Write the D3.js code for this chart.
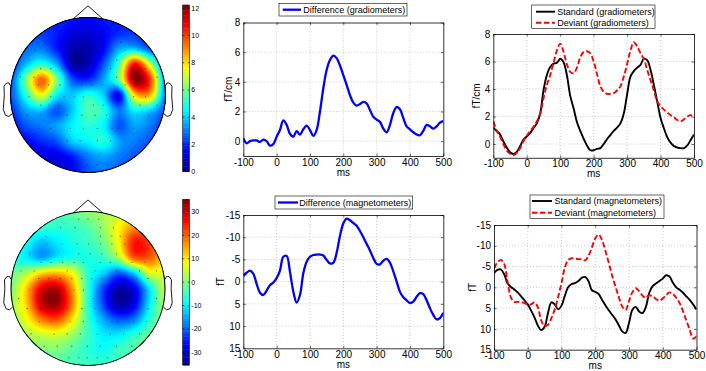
<!DOCTYPE html>
<html><head><meta charset="utf-8">
<script src="https://cdn.jsdelivr.net/npm/d3@7"></script>
<style>
body{margin:0;background:#fff;}
svg{display:block;font-family:"Liberation Sans",Arial,Helvetica,sans-serif;}
</style></head><body>
<svg id="chart" width="706" height="371"></svg>
<script>
// ---------------- DATA ----------------
const timesMs = [-100,-90,-80,-70,-60,-50,-40,-30,-20,-10,0,10,20,30,40,50,60,70,80,90,100,110,120,130,140,150,160,170,180,190,200,210,220,230,240,250,260,270,280,290,300,310,320,330,340,350,360,370,380,390,400,410,420,430,440,450,460,470,480,490,500];

const gradDifference = [0.2,-0.15,0.0,0.05,0.05,-0.05,0.1,0.0,-0.3,-0.2,
 0.3,0.75,1.4,1.1,0.5,0.3,0.68,0.45,0.8,1.05,
 0.75,0.36,0.75,2.0,3.55,4.8,5.47,5.77,5.6,5.1,
 4.45,3.8,3.1,2.6,2.4,2.5,2.65,2.55,2.1,1.65,
 1.45,1.3,0.85,0.6,1.1,1.9,2.3,2.15,1.55,1.0,
 0.8,0.6,0.45,0.4,0.7,1.1,1.0,0.85,1.0,1.25,
 1.35];

const magDifference = [-1.3,-2.0,-2.5,-1.8,0.5,2.5,3.0,2.0,0.8,0.2,
 -0.8,-2.5,-5.6,-5.8,-2.2,2.2,4.7,3.0,-1.9,-4.5,
 -5.6,-6.0,-6.1,-6.1,-5.9,-4.9,-4.1,-4.2,-6.5,-10.3,
 -13.1,-14.2,-13.8,-13.2,-12.6,-11.4,-10.0,-8.5,-7.0,-5.3,
 -4.0,-3.9,-4.7,-5.1,-4.3,-2.3,0.0,2.3,3.5,4.2,
 4.8,4.5,3.4,2.6,2.8,4.2,6.0,7.5,8.5,8.2,
 7.0];

const gradStandard = [1.2,0.95,0.7,0.2,-0.25,-0.6,-0.72,-0.58,-0.15,0.3,
 0.55,0.8,1.15,1.5,2.2,3.9,5.0,5.6,5.85,5.9,
 6.2,5.95,5.0,3.5,2.6,1.6,0.95,0.4,-0.1,-0.45,
 -0.45,-0.35,-0.3,0.0,0.35,0.65,0.95,1.2,1.5,2.2,
 3.6,4.9,5.3,5.55,5.75,6.2,6.1,5.4,4.3,3.1,
 1.9,1.15,0.5,0.1,-0.15,-0.25,-0.3,-0.3,-0.1,0.3,
 0.7];

const gradDeviant = [1.65,1.0,0.55,0.0,-0.45,-0.7,-0.82,-0.65,-0.3,0.2,
 0.6,0.95,1.25,1.65,2.2,3.3,4.3,5.0,5.9,6.8,
 7.3,6.7,5.8,5.25,5.15,5.55,6.3,6.7,6.75,6.6,
 6.0,5.1,4.2,3.8,3.65,3.65,3.7,3.9,4.2,4.9,
 5.8,6.8,7.4,7.1,6.6,6.2,5.4,4.65,3.9,3.1,
 2.75,2.5,2.3,2.1,1.95,1.75,1.65,1.8,2.0,2.1,
 1.9];

const magStandard = [-3.4,-4.2,-4.3,-3.2,-1.0,-0.1,0.5,1.2,2.1,3.1,
 4.1,5.6,7.2,9.2,10.3,9.5,6.2,3.6,4.1,5.3,
 4.4,2.0,-0.1,-0.8,-1.0,-1.5,-2.3,-2.5,-1.5,0.7,
 1.1,1.6,3.0,4.3,5.5,6.6,7.7,9.1,10.6,11.0,
 8.6,5.4,4.7,5.8,6.2,4.7,1.3,-0.3,-0.9,-1.5,
 -2.1,-2.9,-2.6,-1.1,0.0,0.6,1.3,2.2,3.0,4.1,
 5.3];

const magDeviant = [-4.6,-6.0,-6.6,-5.7,-1.5,2.4,3.5,3.5,3.5,3.8,
 4.1,4.1,3.6,4.8,8.0,9.3,9.0,7.4,5.3,2.3,
 -1.0,-4.8,-6.6,-7.0,-6.9,-6.8,-6.75,-6.5,-7.6,-9.6,
 -11.8,-12.7,-11.4,-8.8,-5.9,-2.8,-0.2,2.4,4.6,5.45,
 3.3,1.2,0.2,0.9,2.0,2.5,1.9,2.2,2.8,3.2,
 2.7,1.9,1.2,1.6,2.5,3.8,5.7,8.0,10.2,12.3,
 11.8];

const xTicks = [-100,0,100,200,300,400,500];
const gradYTicks = [0,2,4,6,8];
const magYTicks = [-15,-10,-5,0,5,10,15];
const gradColorTicks = [0,2,4,6,8,10,12];
const magColorTicks = [-30,-20,-10,0,10,20,30];
const gradColorRange = [0,12.25];
const magColorRange = [-35.4,35.4];

// topographic field values on an 11x11 grid over the head (rows top->bottom, cols left->right)
const gradMapGrid = [
 [2,2,2,2,1.8,1.5,1.8,2,2,2,2],
 [2.5,2.5,2.2,1.8,1.2,1.0,1.5,2,2.2,2,2],
 [2.5,2.8,3,1.8,0.6,0.6,1.5,3.5,3.8,2.5,2],
 [2,3.8,5,3.5,0.5,0.7,2.5,5.5,10.5,7,2.5],
 [2.5,6,9.5,6,2.5,2,3.5,6,12,10,3],
 [2.5,5,7.5,4.5,4,5,4,1.5,8,8.5,3],
 [2,3.5,3.8,2.5,4,5.5,5,3,4.5,4,2.5],
 [1.5,2.5,3,3.5,4.5,5,4.5,2.5,3.5,3,2],
 [1.5,1.5,2,2.5,4,4.5,5,3.5,3,2.5,1.5],
 [1.2,1.2,1.2,1.2,1.8,3,3.5,3,2.5,2,1.5],
 [1.2,1.2,1.2,1.2,1.5,2.5,3,2.5,2,1.5,1.5]
];
const magMapGrid = [
 [-3,-3,-3,-3,-2,1,3,5,8,8,8],
 [-5,-5,-5,-6,-5,-3,2,9,16,15,10],
 [-5,-8,-13,-10,-7,-5,-1,9,25,22,10],
 [-6,-10,-15,-10,-7,-7,-5,3,20,20,12],
 [-2,3,11,13,8,-6,-12,-20,-12,6,6],
 [0,12,28,31,15,-6,-22,-32,-28,-10,5],
 [2,12,30,33,17,-6,-22,-33,-28,-10,3],
 [2,8,18,21,10,-5,-15,-21,-18,-6,0],
 [2,3,5,6,2,-5,-10,-10,-6,-2,0],
 [2,2,0,0,-3,-6,-8,-5,-3,-2,-2],
 [-2,-2,-3,-4,-4,-5,-5,-4,-3,-2,-2]
];

// sensor positions: [normalised y, [normalised x ...]]
const sensorRows = [
 [-0.90,[-0.12,0,0.14]],
 [-0.79,[-0.36,-0.17,0.16,0.33]],
 [-0.68,[-0.55,0.16,0.31,0.42]],
 [-0.58,[-0.68,-0.53,-0.34,-0.14,0.01,0.16,0.31,0.48,0.65]],
 [-0.45,[-0.76,-0.12,0.03,0.18,0.37]],
 [-0.34,[-0.61,-0.48,-0.33,-0.18,-0.06,0.16,0.29,0.57,0.74]],
 [-0.23,[-0.87,-0.7,-0.27,0.09,0.37,0.67,0.89]],
 [-0.13,[-0.64,-0.51,-0.36,-0.21,-0.08,0.05,0.18,0.33,0.48,0.63,0.78]],
 [0.02,[-0.76,-0.48,-0.31,-0.18,-0.06,0.29,0.44,0.59,0.74]],
 [0.13,[-0.9,-0.61,-0.51,-0.38,0.07,0.2,0.37,0.67,0.89]],
 [0.26,[-0.79,-0.61,-0.27,-0.08,0.09,0.24,0.41,0.63,0.78]],
 [0.43,[-0.63,-0.48,-0.23,-0.06,0.12,0.31,0.39,0.59,0.76]],
 [0.59,[-0.74,-0.44,-0.27,-0.1,0.12,0.29,0.46,0.67]],
 [0.75,[-0.57,-0.4,-0.21,-0.01,0.16,0.37,0.57]],
 [0.90,[-0.25,-0.12,-0.01,0.12,0.25]]
];

// head outline shape (topoplot ear / nose geometry, fraction of head radius)
const earX = [0.994,1.02,1.036,1.0598,1.0838,1.08,1.094,1.064,1.02,0.978];
const earY = [0.111,0.155,0.1566,0.1492,0.111,-0.011,-0.1864,-0.2626,-0.2768,-0.2398];
const noseX = [-0.18,0,0.18];
const noseY = [0.992,1.15,0.992];

// ---------------- DRAWING ----------------
const FONT = "'Liberation Sans', Arial, Helvetica, sans-serif";
const svg = d3.select("#chart");
svg.append("rect").attr("width",706).attr("height",371).attr("fill","#fff");

function jet(t){
  t = Math.max(0, Math.min(1, t));
  const c = v => Math.round(255*Math.max(0, Math.min(1, v)));
  return `rgb(${c(Math.min(4*t-1.5,-4*t+4.5))},${c(Math.min(4*t-0.5,-4*t+3.5))},${c(Math.min(4*t+0.5,-4*t+2.5))})`;
}

function upsample(grid, N){
  const G = grid.length;
  const get = (r,c) => grid[Math.max(0,Math.min(G-1,r))][Math.max(0,Math.min(G-1,c))];
  const cr = (p0,p1,p2,p3,t) => p1 + 0.5*t*(p2-p0 + t*(2*p0-5*p1+4*p2-p3 + t*(3*(p1-p2)+p3-p0)));
  const out = new Float64Array(N*N);
  for (let j=0;j<N;j++){
    const v=j/(N-1)*(G-1); const r=Math.min(G-2,Math.floor(v)); const ty=v-r;
    for (let i=0;i<N;i++){
      const u=i/(N-1)*(G-1); const c=Math.min(G-2,Math.floor(u)); const tx=u-c;
      const rows=[-1,0,1,2].map(k=>cr(get(r+k,c-1),get(r+k,c),get(r+k,c+1),get(r+k,c+2),tx));
      out[j*N+i]=cr(rows[0],rows[1],rows[2],rows[3],ty);
    }
  }
  return out;
}

function drawTopo(cfg){
  const {cx, cy, r, grid, range, id, bar, ticks} = cfg;
  const N = 141;
  const values = upsample(grid, N);
  const tScale = d3.scaleLinear().domain(range).range([0,1]).clamp(true);
  const nLev = 64;
  const step = (range[1]-range[0])/nLev;
  const thresholds = d3.range(nLev).map(i => range[0] + i*step);
  thresholds[0] = Math.min(d3.min(values), range[0]) - 1;
  const contours = d3.contours().size([N,N]).thresholds(thresholds)(values);
  const k = 2*r/(N-1);
  const proj = d3.geoIdentity().scale(k).translate([cx - r - k/2, cy - r - k/2]);
  const path = d3.geoPath(proj);
  svg.append("clipPath").attr("id", id).append("circle").attr("cx",cx).attr("cy",cy).attr("r",r);
  const g = svg.append("g").attr("clip-path", `url(#${id})`);
  g.selectAll("path").data(contours).join("path")
    .attr("d", path)
    .attr("fill", (d,i) => jet(tScale(range[0] + (i+0.5)*step)))
    .attr("stroke", (d,i) => jet(tScale(range[0] + (i+0.5)*step)))
    .attr("stroke-width", 0.3);
  // sensors
  const pts = [];
  sensorRows.forEach(([ny, xs]) => xs.forEach(nx => pts.push([nx, ny])));
  g.selectAll("circle.s").data(pts).join("circle").attr("class","s")
    .attr("cx", d => cx + d[0]*r).attr("cy", d => cy + d[1]*r).attr("r", 0.65)
    .attr("fill", "#222").attr("opacity", 0.65);
  // head outline
  svg.append("circle").attr("cx",cx).attr("cy",cy).attr("r",r)
    .attr("fill","none").attr("stroke","#000").attr("stroke-width",1.1);
  const line = d3.line();
  svg.append("path").attr("d", line(noseX.map((nx,i)=>[cx+nx*r, cy-noseY[i]*r])))
    .attr("fill","none").attr("stroke","#000").attr("stroke-width",0.9);
  [1,-1].forEach(s => {
    svg.append("path").attr("d", line(earX.map((ex,i)=>[cx+s*ex*r, cy-earY[i]*r])))
      .attr("fill","none").attr("stroke","#000").attr("stroke-width",0.9);
  });
  // colorbar
  const yb = d3.scaleLinear().domain(range).range([bar.y1, bar.y0]);
  const cb = svg.append("g");
  const nBar = 64; const bstep = (range[1]-range[0])/nBar;
  cb.selectAll("rect").data(d3.range(nBar)).join("rect")
    .attr("x", bar.x0).attr("width", bar.x1-bar.x0)
    .attr("y", i => yb(range[0]+(i+1)*bstep)).attr("height", i => yb(range[0]+i*bstep)-yb(range[0]+(i+1)*bstep)+0.4)
    .attr("fill", i => jet((i+0.5)/nBar));
  cb.append("rect").attr("x",bar.x0).attr("y",bar.y0).attr("width",bar.x1-bar.x0).attr("height",bar.y1-bar.y0)
    .attr("fill","none").attr("stroke","#000").attr("stroke-width",0.6);
  ticks.forEach(t => {
    const y = yb(t);
    cb.append("line").attr("x1",bar.x0).attr("x2",bar.x0+1.5).attr("y1",y).attr("y2",y).attr("stroke","#000").attr("stroke-width",0.6);
    cb.append("line").attr("x1",bar.x1-1.5).attr("x2",bar.x1).attr("y1",y).attr("y2",y).attr("stroke","#000").attr("stroke-width",0.6);
    cb.append("text").attr("x", bar.x1+2).attr("y", y).attr("dy","0.35em")
      .attr("font-size", 7).attr("font-family", FONT).text(String(t));
  });
}

function drawPlot(cfg){
  const {x0,x1,y0,y1,yDomain,yTicks,series,legend,ylabel,ylabelX,msOffset} = cfg;
  const x = d3.scaleLinear().domain([-100,500]).range([x0,x1]);
  const y = d3.scaleLinear().domain(yDomain).range([y1,y0]);
  const g = svg.append("g");
  g.append("rect").attr("x",x0).attr("y",y0).attr("width",x1-x0).attr("height",y1-y0).attr("fill","#fff");
  // grid
  const gx = xTicks.filter(t => Math.abs(x(t)-x0)>1 && Math.abs(x(t)-x1)>1);
  const gy = yTicks.filter(t => Math.abs(y(t)-y0)>1 && Math.abs(y(t)-y1)>1);
  g.selectAll("line.gx").data(gx).join("line").attr("class","gx")
    .attr("x1",d=>x(d)).attr("x2",d=>x(d)).attr("y1",y0).attr("y2",y1)
    .attr("stroke","#b4b4b4").attr("stroke-width",0.7).attr("stroke-dasharray","1,2");
  g.selectAll("line.gy").data(gy).join("line").attr("class","gy")
    .attr("x1",x0).attr("x2",x1).attr("y1",d=>y(d)).attr("y2",d=>y(d))
    .attr("stroke","#b4b4b4").attr("stroke-width",0.7).attr("stroke-dasharray","1,2");
  // series
  const cid = "clip" + Math.round(x0) + "_" + Math.round(y0);
  svg.append("clipPath").attr("id",cid).append("rect").attr("x",x0).attr("y",y0).attr("width",x1-x0).attr("height",y1-y0);
  const line = d3.line().x((d,i)=>x(timesMs[i])).y(d=>y(d)).curve(d3.curveCatmullRom.alpha(0.5));
  const sg = g.append("g").attr("clip-path",`url(#${cid})`);
  series.forEach(s => {
    sg.append("path").attr("d", line(s.values)).attr("fill","none")
      .attr("stroke", s.color).attr("stroke-width", s.width)
      .attr("stroke-dasharray", s.dash || null).attr("stroke-linejoin","round");
  });
  // axes
  const fmt = d => String(d);
  const styleAxis = sel => {
    sel.attr("font-family", FONT).attr("font-size", 10);
    sel.selectAll("text").attr("fill","#000");
    sel.selectAll("path.domain").attr("stroke","#000").attr("stroke-width",0.8);
    sel.selectAll("line").attr("stroke","#000").attr("stroke-width",0.6);
  };
  g.append("g").attr("transform",`translate(0,${y1})`)
    .call(d3.axisBottom(x).tickValues(xTicks).tickSizeInner(-2.5).tickSizeOuter(0).tickPadding(2.5).tickFormat(fmt)).call(styleAxis);
  g.append("g").attr("transform",`translate(${x0},0)`)
    .call(d3.axisLeft(y).tickValues(yTicks).tickSizeInner(-2.5).tickSizeOuter(0).tickPadding(3).tickFormat(fmt)).call(styleAxis);
  g.append("g").attr("transform",`translate(0,${y0})`)
    .call(d3.axisTop(x).tickValues(xTicks).tickSizeInner(-2.5).tickSizeOuter(0).tickFormat("")).call(styleAxis);
  g.append("g").attr("transform",`translate(${x1},0)`)
    .call(d3.axisRight(y).tickValues(yTicks).tickSizeInner(-2.5).tickSizeOuter(0).tickFormat("")).call(styleAxis);
  // labels
  g.append("text").attr("x",(x0+x1)/2).attr("y",y1+(msOffset||19.5)).attr("text-anchor","middle")
    .attr("font-size",10).attr("font-family",FONT).text("ms");
  g.append("text").attr("transform",`translate(${ylabelX},${(y0+y1)/2}) rotate(-90)`)
    .attr("text-anchor","middle").attr("dy","0.35em").attr("font-size",10).attr("font-family",FONT).text(ylabel);
  // legend
  const lg = g.append("g");
  lg.append("rect").attr("x",legend.x).attr("y",legend.y).attr("width",legend.w).attr("height",legend.h)
    .attr("fill","#fff").attr("stroke","#000").attr("stroke-width",0.6);
  legend.items.forEach((it,i) => {
    const cy = legend.y + legend.rows[i];
    lg.append("line").attr("x1",legend.l0).attr("x2",legend.l1).attr("y1",cy).attr("y2",cy)
      .attr("stroke",it.color).attr("stroke-width",it.width).attr("stroke-dasharray",it.dash||null);
    lg.append("text").attr("x",legend.tx).attr("y",cy).attr("dy","0.35em")
      .attr("font-size",9).attr("font-family",FONT).text(it.label);
  });
}

// Topomaps
drawTopo({cx:88, cy:95, r:77.5, grid:gradMapGrid, range:gradColorRange, id:"topoA",
  bar:{x0:182.7,x1:189.3,y0:5,y1:171.5}, ticks:gradColorTicks});
drawTopo({cx:88, cy:288.5, r:77, grid:magMapGrid, range:magColorRange, id:"topoB",
  bar:{x0:182.7,x1:189.3,y0:199.3,y1:365}, ticks:magColorTicks});

const blue = {color:"#0000ff", width:2.3};
const black = {color:"#000", width:1.9};
const red = {color:"#ff0000", width:1.9, dash:"5.5,2.5"};

drawPlot({x0:243.3,x1:443.3,y0:22.5,y1:156,yDomain:[-1,8],yTicks:gradYTicks,
  series:[{...blue, values:gradDifference}],
  ylabel:"fT/cm", ylabelX:228,
  legend:{x:279,y:3.3,w:128,h:12.7,rows:[6.4],l0:282.7,l1:301,tx:303.3,
    items:[{...blue,label:"Difference (gradiometers)"}]}});

drawPlot({x0:243.3,x1:443.3,y0:215,y1:348.3,yDomain:[15,-15],yTicks:magYTicks,
  series:[{...blue, values:magDifference}],
  ylabel:"fT", ylabelX:220.5,
  legend:{x:275,y:196,w:137.7,h:13,rows:[6.5],l0:278,l1:298,tx:299.3,
    items:[{...blue,label:"Difference (magnetometers)"}]}});

drawPlot({x0:493.3,x1:694,y0:34,y1:157.8,yDomain:[-1,8],yTicks:gradYTicks,
  series:[{...black, values:gradStandard},{...red, values:gradDeviant}],
  ylabel:"fT/cm", ylabelX:476.5,
  legend:{x:531.7,y:5,w:123.3,h:23.3,rows:[6.7,17.7],l0:536,l1:555,tx:557.3,
    items:[{...black,label:"Standard (gradiometers)"},{...red,label:"Deviant (gradiometers)"}]}});

drawPlot({x0:494,x1:696.5,y0:225,y1:349.7,yDomain:[15,-15],yTicks:magYTicks,
  series:[{...black, values:magStandard},{...red, values:magDeviant}],
  ylabel:"fT", ylabelX:472,
  legend:{x:530,y:195,w:134,h:23.3,rows:[6,17.7],l0:532,l1:552,tx:554.5,
    items:[{...black,label:"Standard (magnetometers)"},{...red,label:"Deviant (magnetometers)"}]}});
</script>
</body></html>
